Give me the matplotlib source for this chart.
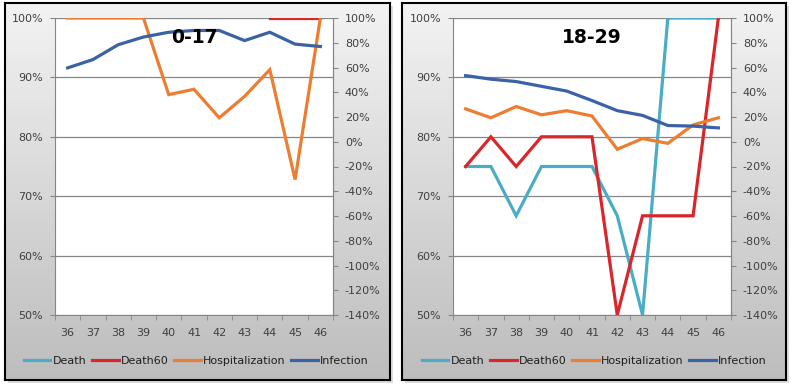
import numpy as np
import matplotlib.pyplot as plt
from matplotlib.colors import LinearSegmentedColormap

weeks = [36, 37, 38, 39, 40, 41, 42, 43, 44, 45, 46]
series_names = ['Death', 'Death60', 'Hospitalization', 'Infection']
colors = ['#4bacc6', '#d9262b', '#ed7d31', '#3b62a6']

# 0-17 (percent)
death_017 = [np.nan] * 11
death60_017 = [np.nan] * 8 + [100, 100, 100]
hosp_017 = [100, 100, 100, 100, 87.1, 88.0, 83.2, 86.8, 91.3, 72.8, 100]
inf_017 = [91.6, 93.0, 95.5, 96.8, 97.6, 97.9, 97.9, 96.2, 97.6, 95.6, 95.2]

# 18-29 (percent)
death_1829 = [75, 75, 66.7, 75, 75, 75, 66.7, 50, 100, 100, 100]
death60_1829 = [75, 80, 75, 80, 80, 80, 50, 66.7, 66.7, 66.7, 100]
hosp_1829 = [84.7, 83.2, 85.1, 83.7, 84.4, 83.5, 77.9, 79.7, 78.9, 82.0, 83.2]
inf_1829 = [90.3, 89.7, 89.3, 88.5, 87.7, 86.1, 84.4, 83.6, 81.9, 81.8, 81.5]

left_ticks = [50, 60, 70, 80, 90, 100]
right_ticks = list(range(-140, 101, 20))

fig = plt.figure(figsize=(7.91, 3.88), dpi=100)
W, H = 791, 388

# panel backgrounds with gradient
grad = np.linspace(0, 1, 256).reshape(-1, 1)
cmap = LinearSegmentedColormap.from_list('g', ['#f3f3f3', '#bdbdbd'])
for x0, x1 in [(5, 390), (402, 786)]:
    sh = fig.add_axes([(x0 + 3) / W, (H - 383) / H, (x1 - x0) / W, 377 / H], zorder=-2)
    sh.set_facecolor('#dcdcdc')
    sh.set_xticks([])
    sh.set_yticks([])
    for s in sh.spines.values():
        s.set_visible(False)
    bg = fig.add_axes([x0 / W, (H - 380) / H, (x1 - x0) / W, 377 / H], zorder=-1)
    bg.imshow(grad, aspect='auto', cmap=cmap, extent=[0, 1, 0, 1], origin='upper')
    bg.set_xticks([])
    bg.set_yticks([])
    for s in bg.spines.values():
        s.set_color('black')
        s.set_linewidth(1.5)

panels = [
    ('0-17', 55, 333, [death_017, death60_017, hosp_017, inf_017]),
    ('18-29', 453, 731, [death_1829, death60_1829, hosp_1829, inf_1829]),
]

tick_color = '#404040'
grid_color = '#868686'
fs = 8

for title, px0, px1, data in panels:
    ax = fig.add_axes([px0 / W, (H - 315) / H, (px1 - px0) / W, (315 - 18) / H], zorder=1)
    ax.set_facecolor('white')
    for name, vals, c in zip(series_names, data, colors):
        ax.plot(weeks, vals, color=c, lw=2.3, label=name, solid_joinstyle='miter')
    ax.set_ylim(50, 100)
    ax.set_xlim(35.5, 46.5)
    ax.set_yticks(left_ticks)
    ax.set_yticklabels([f'{t}%' for t in left_ticks])
    ax.set_xticks(weeks)
    ax.set_xticks(np.arange(35.5, 47, 1), minor=True)
    ax.tick_params(axis='x', which='major', length=0, pad=9, labelsize=fs, colors=tick_color)
    ax.tick_params(axis='x', which='minor', length=3.5, color=grid_color)
    ax.tick_params(axis='y', length=3.5, color=grid_color, labelsize=fs, labelcolor=tick_color, pad=5)
    ax.grid(axis='y', color=grid_color, lw=0.9)
    ax.set_axisbelow(True)
    ax.spines['top'].set_visible(False)
    for s in ['left', 'right', 'bottom']:
        ax.spines[s].set_color(grid_color)
    ax.text(0.5, 0.965, title, transform=ax.transAxes, ha='center', va='top',
            fontsize=13.5, fontweight='bold', zorder=5)

    ax2 = ax.twinx()
    ax2.set_ylim(-140, 100)
    ax2.set_yticks(right_ticks)
    ax2.set_yticklabels([f'{t}%' for t in right_ticks])
    ax2.tick_params(axis='y', length=3.5, color=grid_color, labelsize=fs, labelcolor=tick_color, pad=5)
    for s in ['top', 'left', 'bottom']:
        ax2.spines[s].set_visible(False)
    ax2.spines['right'].set_color(grid_color)

    ax.legend(loc='center', bbox_to_anchor=((px0 + px1) / 2 / W + 0.003, (H - 361) / H),
              bbox_transform=fig.transFigure, ncol=4, frameon=False, fontsize=fs,
              handlelength=2.4, handletextpad=0.2, columnspacing=0.5, labelcolor='#202020')

fig.savefig('out.png', dpi=100)
